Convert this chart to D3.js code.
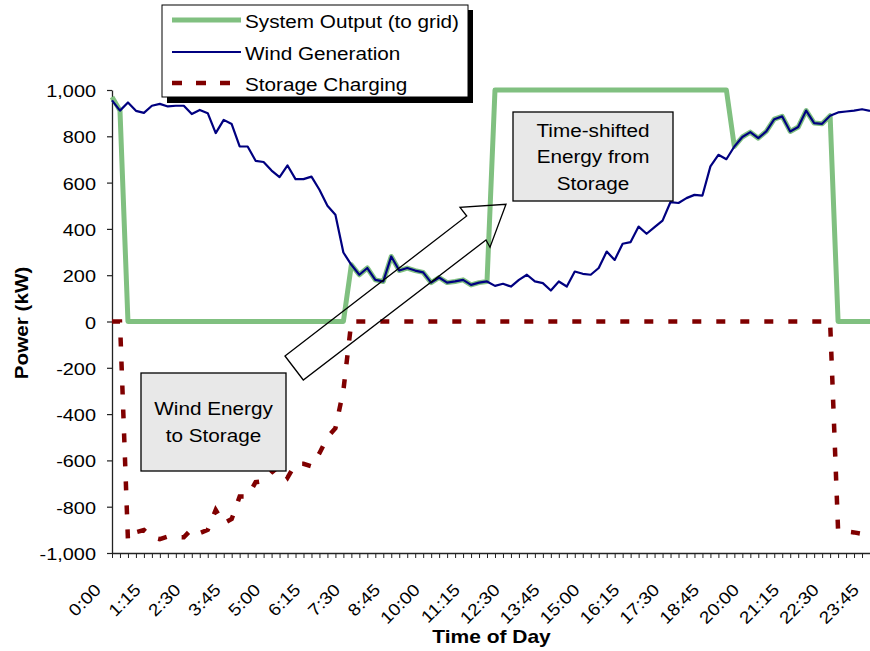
<!DOCTYPE html>
<html>
<head>
<meta charset="utf-8">
<script src="https://cdn.jsdelivr.net/npm/d3@7"></script>
<style>
  body { margin: 0; background: #fff; }
  text { font-family: "Liberation Sans", Arial, sans-serif; fill: #000; }
</style>
</head>
<body>
<div id="chart"></div>
<script>
// categories: every 15 minutes of the day
const times = [
  "0:00","0:15","0:30","0:45","1:00","1:15","1:30","1:45","2:00","2:15","2:30","2:45",
  "3:00","3:15","3:30","3:45","4:00","4:15","4:30","4:45","5:00","5:15","5:30","5:45",
  "6:00","6:15","6:30","6:45","7:00","7:15","7:30","7:45","8:00","8:15","8:30","8:45",
  "9:00","9:15","9:30","9:45","10:00","10:15","10:30","10:45","11:00","11:15","11:30","11:45",
  "12:00","12:15","12:30","12:45","13:00","13:15","13:30","13:45","14:00","14:15","14:30","14:45",
  "15:00","15:15","15:30","15:45","16:00","16:15","16:30","16:45","17:00","17:15","17:30","17:45",
  "18:00","18:15","18:30","18:45","19:00","19:15","19:30","19:45","20:00","20:15","20:30","20:45",
  "21:00","21:15","21:30","21:45","22:00","22:15","22:30","22:45","23:00","23:15","23:30","23:45"
];

const tickLabels = ["0:00","1:15","2:30","3:45","5:00","6:15","7:30","8:45","10:00","11:15",
  "12:30","13:45","15:00","16:15","17:30","18:45","20:00","21:15","22:30","23:45"];

const yTicks = [-1000, -800, -600, -400, -200, 0, 200, 400, 600, 800, 1000];

const windGen = [
  955, 911, 946, 910, 901, 932, 940, 929, 932, 932,
  896, 914, 900, 814, 871, 853, 756, 756, 694, 689,
  652, 624, 674, 615, 615, 626, 569, 500, 461, 298,
  245, 202, 231, 180, 173, 281, 220, 231, 220, 212,
  168, 190, 168, 173, 180, 158, 168, 173, 154, 163,
  151, 180, 202, 173, 166, 134, 173, 151, 216, 206,
  202, 231, 302, 266, 336, 343, 410, 379, 408, 436,
  516, 512, 533, 547, 544, 670, 720, 701, 756, 797,
  818, 792, 821, 874, 886, 821, 840, 911, 857, 854,
  889, 903, 907, 911, 917, 910
];

const systemOut = [
  970, 911, 0, 0, 0, 0, 0, 0, 0, 0,
  0, 0, 0, 0, 0, 0, 0, 0, 0, 0,
  0, 0, 0, 0, 0, 0, 0, 0, 0, 0,
  245, 202, 231, 180, 173, 281, 220, 231, 220, 212,
  168, 190, 168, 173, 180, 158, 168, 173, 1000, 1000,
  1000, 1000, 1000, 1000, 1000, 1000, 1000, 1000, 1000, 1000,
  1000, 1000, 1000, 1000, 1000, 1000, 1000, 1000, 1000, 1000,
  1000, 1000, 1000, 1000, 1000, 1000, 1000, 1000, 756, 797,
  818, 792, 821, 874, 886, 821, 840, 911, 857, 854,
  889, 0, 0, 0, 0, 0
];

const storageCharging = [
  0, 0, -946, -910, -901, -932, -940, -929, -932, -932,
  -896, -914, -900, -814, -871, -853, -756, -756, -694, -689,
  -652, -624, -674, -615, -615, -626, -569, -500, -461, -298,
  0, 0, 0, 0, 0, 0, 0, 0, 0, 0,
  0, 0, 0, 0, 0, 0, 0, 0, 0, 0,
  0, 0, 0, 0, 0, 0, 0, 0, 0, 0,
  0, 0, 0, 0, 0, 0, 0, 0, 0, 0,
  0, 0, 0, 0, 0, 0, 0, 0, 0, 0,
  0, 0, 0, 0, 0, 0, 0, 0, 0, 0,
  0, -903, -907, -911, -917, -910
];

const width = 870, height = 651;
const plot = {left: 112, right: 870, top: 90, bottom: 553};

const svg = d3.select("#chart").append("svg")
    .attr("width", width)
    .attr("height", height);

const x = d3.scalePoint().domain(times).range([plot.left, plot.right]);
const y = d3.scaleLinear().domain([-1000, 1000]).range([plot.bottom, plot.top]);

// excel style numbers, plain hyphen for negatives
const fmt = d => d3.format(",")(d).replace("\u2212", "-");

// y axis
const yAxis = svg.append("g")
    .attr("transform", `translate(${plot.left},0)`)
    .call(d3.axisLeft(y).tickValues(yTicks).tickSize(5).tickSizeOuter(0).tickFormat(fmt));
yAxis.select(".domain").attr("stroke", "#222").attr("stroke-width", 1.3);
yAxis.selectAll(".tick line").attr("stroke", "#222").attr("stroke-width", 1.2);
yAxis.selectAll(".tick text")
    .attr("x", null).attr("dy", null)
    .attr("transform", "translate(-16,6.5) scale(1.17,1)")
    .style("font-size", "17px")
    .style("font-family", "'Liberation Sans', Arial, sans-serif")
    .attr("fill", "#000");

// x axis, a tick on every category
const xAxis = svg.append("g")
    .attr("transform", `translate(0,${plot.bottom})`)
    .call(d3.axisBottom(x).tickSize(5).tickSizeOuter(0).tickFormat(""));
xAxis.select(".domain").attr("stroke", "#222").attr("stroke-width", 1.3);
xAxis.selectAll(".tick line").attr("stroke", "#222").attr("stroke-width", 1);

svg.append("g").selectAll("text")
    .data(tickLabels)
    .enter().append("text")
    .attr("text-anchor", "end")
    .attr("transform", d => `translate(${x(d) - 10},591) rotate(-45) scale(1.13,1)`)
    .style("font-size", "17px")
    .text(d => d);

// axis titles
svg.append("text")
    .attr("text-anchor", "middle")
    .attr("transform", "translate(28,323) rotate(-90) scale(1.15,1)")
    .style("font-size", "18px")
    .style("font-weight", "bold")
    .text("Power (kW)");

svg.append("text")
    .attr("text-anchor", "middle")
    .attr("transform", "translate(491.5,643) scale(1.2,1)")
    .style("font-size", "17.5px")
    .style("font-weight", "bold")
    .text("Time of Day");

// series
const line = d3.line()
    .x((d, i) => x(times[i]))
    .y(d => y(d));

svg.append("path")
    .datum(systemOut)
    .attr("d", line)
    .attr("fill", "none")
    .attr("stroke", "#80c080")
    .attr("stroke-width", 5)
    .attr("stroke-linejoin", "round");

svg.append("path")
    .datum(windGen)
    .attr("d", line)
    .attr("fill", "none")
    .attr("stroke", "#000080")
    .attr("stroke-width", 2.2)
    .attr("stroke-linejoin", "round");

svg.append("path")
    .datum(storageCharging)
    .attr("d", line)
    .attr("fill", "none")
    .attr("stroke", "#800000")
    .attr("stroke-width", 4.5)
    .attr("stroke-dasharray", "9,15");

// block arrow (outline only)
const arrowPts = [[285,356],[466.7,216],[460,207.3],[506,204.3],[490,247.3],[486,240],[303.3,380]];
svg.append("path")
    .attr("d", "M" + arrowPts.map(p => p.join(",")).join("L") + "Z")
    .attr("fill", "none")
    .attr("stroke", "#000")
    .attr("stroke-width", 1.3)
    .attr("stroke-linejoin", "miter");

// annotation boxes
function noteBox(x0, y0, w, h, lines, cx, baselines) {
    svg.append("rect")
        .attr("x", x0).attr("y", y0)
        .attr("width", w).attr("height", h)
        .attr("fill", "#e8e8e8")
        .attr("stroke", "#000")
        .attr("stroke-width", 1.3);
    lines.forEach((t, i) => {
        svg.append("text")
            .attr("text-anchor", "middle")
            .attr("transform", `translate(${cx},${baselines[i]}) scale(1.12,1)`)
            .style("font-size", "18.5px")
            .text(t);
    });
}
noteBox(513, 112, 160, 89, ["Time-shifted", "Energy from", "Storage"], 593, [136.7, 163.3, 189.5]);
noteBox(141, 373, 145, 98, ["Wind Energy", "to Storage"], 213.5, [415, 441.5]);

// legend
const legend = svg.append("g");
legend.append("rect")
    .attr("x", 167).attr("y", 10).attr("width", 306).attr("height", 93)
    .attr("fill", "#000");
legend.append("rect")
    .attr("x", 162).attr("y", 5).attr("width", 306).attr("height", 92)
    .attr("fill", "#fff").attr("stroke", "#000").attr("stroke-width", 1);

const legendItems = [
    {name: "System Output (to grid)", color: "#80c080", w: 5, dash: null, y: 20},
    {name: "Wind Generation", color: "#000080", w: 2, dash: null, y: 52},
    {name: "Storage Charging", color: "#800000", w: 4.5, dash: "10,14", y: 83}
];
legendItems.forEach(d => {
    legend.append("line")
        .attr("x1", 172).attr("x2", 241)
        .attr("y1", d.y).attr("y2", d.y)
        .attr("stroke", d.color)
        .attr("stroke-width", d.w)
        .attr("stroke-dasharray", d.dash);
    legend.append("text")
        .attr("transform", `translate(245,${d.y + 8}) scale(1.12,1)`)
        .style("font-size", "18.5px")
        .text(d.name);
});
</script>
</body>
</html>
